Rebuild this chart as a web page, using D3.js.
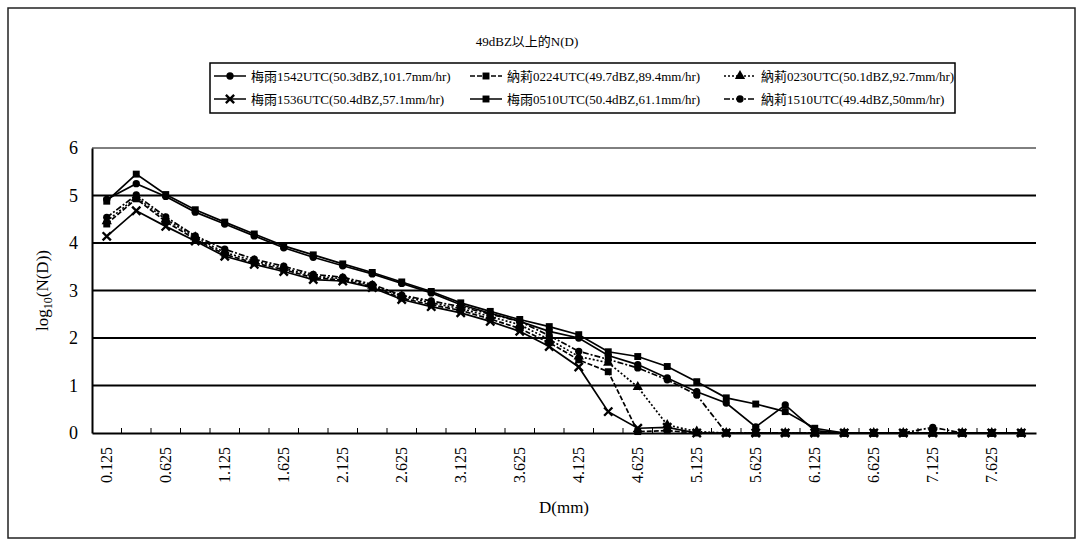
<!DOCTYPE html>
<html><head><meta charset="utf-8">
<script src="https://cdn.jsdelivr.net/npm/d3@7"></script>
<style>body{margin:0;background:#fff}svg{display:block}text{font-family:"Liberation Serif","Noto Sans CJK TC",serif;fill:#000}</style>
</head><body><svg id="c" width="1083" height="547"></svg>
<script>
const title = "49dBZ以上的N(D)";
const categories = ["0.125","0.375","0.625","0.875","1.125","1.375","1.625","1.875","2.125","2.375","2.625","2.875","3.125","3.375","3.625","3.875","4.125","4.375","4.625","4.875","5.125","5.375","5.625","5.875","6.125","6.375","6.625","6.875","7.125","7.375","7.625","7.875"];
const seriesNames = ["梅雨1542UTC(50.3dBZ,101.7mm/hr)","納莉0224UTC(49.7dBZ,89.4mm/hr)","納莉0230UTC(50.1dBZ,92.7mm/hr)","梅雨1536UTC(50.4dBZ,57.1mm/hr)","梅雨0510UTC(50.4dBZ,61.1mm/hr)","納莉1510UTC(49.4dBZ,50mm/hr)"];
const s1542 = [4.92,5.25,4.98,4.65,4.40,4.15,3.90,3.70,3.52,3.35,3.15,2.95,2.70,2.52,2.35,2.14,2.00,1.63,1.44,1.16,0.87,0.63,0.13,0.59,0.05,0,0,0,0,0,0,0];
const s0224 = [4.40,4.93,4.45,4.08,3.76,3.58,3.44,3.27,3.22,3.08,2.84,2.70,2.58,2.40,2.20,1.90,1.54,1.29,0.03,0.05,0,0,0,0,0,0,0,0,0,0,0,0];
const s0230 = [4.46,4.96,4.50,4.12,3.80,3.62,3.47,3.30,3.25,3.10,2.88,2.74,2.62,2.45,2.28,1.97,1.61,1.48,0.97,0.17,0.03,0,0,0,0,0,0,0,0,0,0,0];
const s1536 = [4.14,4.68,4.35,4.04,3.72,3.55,3.40,3.23,3.20,3.06,2.81,2.66,2.53,2.35,2.14,1.82,1.39,0.45,0.10,0.12,0,0,0,0,0,0,0,0,0,0,0,0];
const s0510 = [4.88,5.45,5.02,4.70,4.44,4.19,3.94,3.75,3.56,3.38,3.18,2.98,2.74,2.56,2.39,2.24,2.07,1.71,1.61,1.40,1.08,0.74,0.61,0.45,0.10,0,0,0,0,0,0,0];
const s1510 = [4.54,5.01,4.55,4.15,3.87,3.66,3.51,3.34,3.28,3.13,2.90,2.78,2.66,2.50,2.35,2.05,1.72,1.55,1.37,1.12,0.80,0,0,0,0,0,0,0,0.12,0,0,0];
const yTicks = [0,1,2,3,4,5,6];

const seriesData = [s1542,s0224,s0230,s1536,s0510,s1510];
const markers = ["circle","square","triangle","cross","square","circle"];
const dashes = [null,"5,2","2,2",null,null,"6,2,2,2"];

const svg = d3.select("#c");
svg.append("rect").attr("x",8).attr("y",8).attr("width",1067).attr("height",530).attr("fill","none").attr("stroke","#222").attr("stroke-width",1.5);

const L=92,R=1036,T=148,B=433;
const x = d3.scaleBand().domain(categories).range([L,R]).paddingInner(0).paddingOuter(0);
const y = d3.scaleLinear().domain([0,6]).range([B,T]);
const cx = c => x(c)+x.bandwidth()/2;

svg.append("g").selectAll("line").data(yTicks.filter(d=>d>0)).join("line")
  .attr("x1",L).attr("x2",R).attr("y1",d=>y(d)).attr("y2",d=>y(d)).attr("stroke","#000").attr("stroke-width",d=>d===6?1:2);

const ya = svg.append("g").attr("transform",`translate(${L},0)`).call(d3.axisLeft(y).tickValues(yTicks).tickFormat(d3.format("d")).tickSize(0).tickPadding(14));
ya.attr("font-family",null).attr("font-size",null);
ya.select(".domain").attr("stroke","#000").attr("stroke-width",2);
ya.selectAll("text").style("font-size","18px");

const xa = svg.append("g").attr("transform",`translate(0,${B})`).call(d3.axisBottom(x).tickSize(0).tickFormat((d,i)=>i%2===0?d:""));
xa.attr("font-family",null).attr("font-size",null);
xa.select(".domain").attr("stroke","#000").attr("stroke-width",2);
xa.selectAll("text").attr("transform","rotate(-90)").attr("text-anchor","end").attr("x",-14).attr("y",0).attr("dy","0.35em").style("font-size","16px");
svg.append("g").selectAll("line").data(categories.slice(1)).join("line")
  .attr("x1",d=>x(d)).attr("x2",d=>x(d)).attr("y1",B).attr("y2",B-5).attr("stroke","#000").attr("stroke-width",1);

const line = d3.line().x((d,i)=>cx(categories[i])).y(d=>y(d));
const sym = {circle:d3.symbolCircle,square:d3.symbolSquare,triangle:d3.symbolTriangle,cross:d3.symbolX};
const symSize = {circle:42,square:48,triangle:46,cross:46};
function drawMarker(g,type,px,py){
  const p = g.append("path").attr("transform",`translate(${px},${py})`).attr("d",d3.symbol(sym[type],symSize[type])());
  if(type==="cross") p.attr("fill","none").attr("stroke","#000").attr("stroke-width",2.4);
  else p.attr("fill","#000");
}
seriesData.forEach((vals,si)=>{
  const g = svg.append("g");
  g.append("path").datum(vals).attr("d",line).attr("fill","none").attr("stroke","#000").attr("stroke-width",1.7)
    .attr("stroke-dasharray",dashes[si]);
  vals.forEach((v,i)=>drawMarker(g,markers[si],cx(categories[i]),y(v)));
});

svg.append("text").attr("x",527).attr("y",46).attr("text-anchor","middle").style("font-size","13px").text(title);
svg.append("text").attr("x",(L+R)/2).attr("y",513).attr("text-anchor","middle").style("font-size","17px").text("D(mm)");
const yt = svg.append("text").attr("transform",`translate(48,${(T+B)/2}) rotate(-90)`).attr("text-anchor","middle").style("font-size","17px");
yt.append("tspan").text("log");
yt.append("tspan").attr("dy",4).style("font-size","12px").text("10");
yt.append("tspan").attr("dy",-4).text("(N(D))");

const lg = svg.append("g");
lg.append("rect").attr("x",210).attr("y",63).attr("width",745).attr("height",50).attr("fill","#fff").attr("stroke","#000").attr("stroke-width",1.5);
const colX = [214,470,724];
seriesNames.forEach((nm,i)=>{
  const col = i%3, row = Math.floor(i/3);
  const lx = colX[col], ly = 76 + row*23;
  lg.append("line").attr("x1",lx).attr("x2",lx+32).attr("y1",ly).attr("y2",ly).attr("stroke","#000").attr("stroke-width",1.5).attr("stroke-dasharray",dashes[i]);
  drawMarker(lg,markers[i],lx+16,ly);
  lg.append("text").attr("x",lx+37).attr("y",ly).attr("dy","0.35em").style("font-size","13px").text(nm);
});
</script></body></html>
